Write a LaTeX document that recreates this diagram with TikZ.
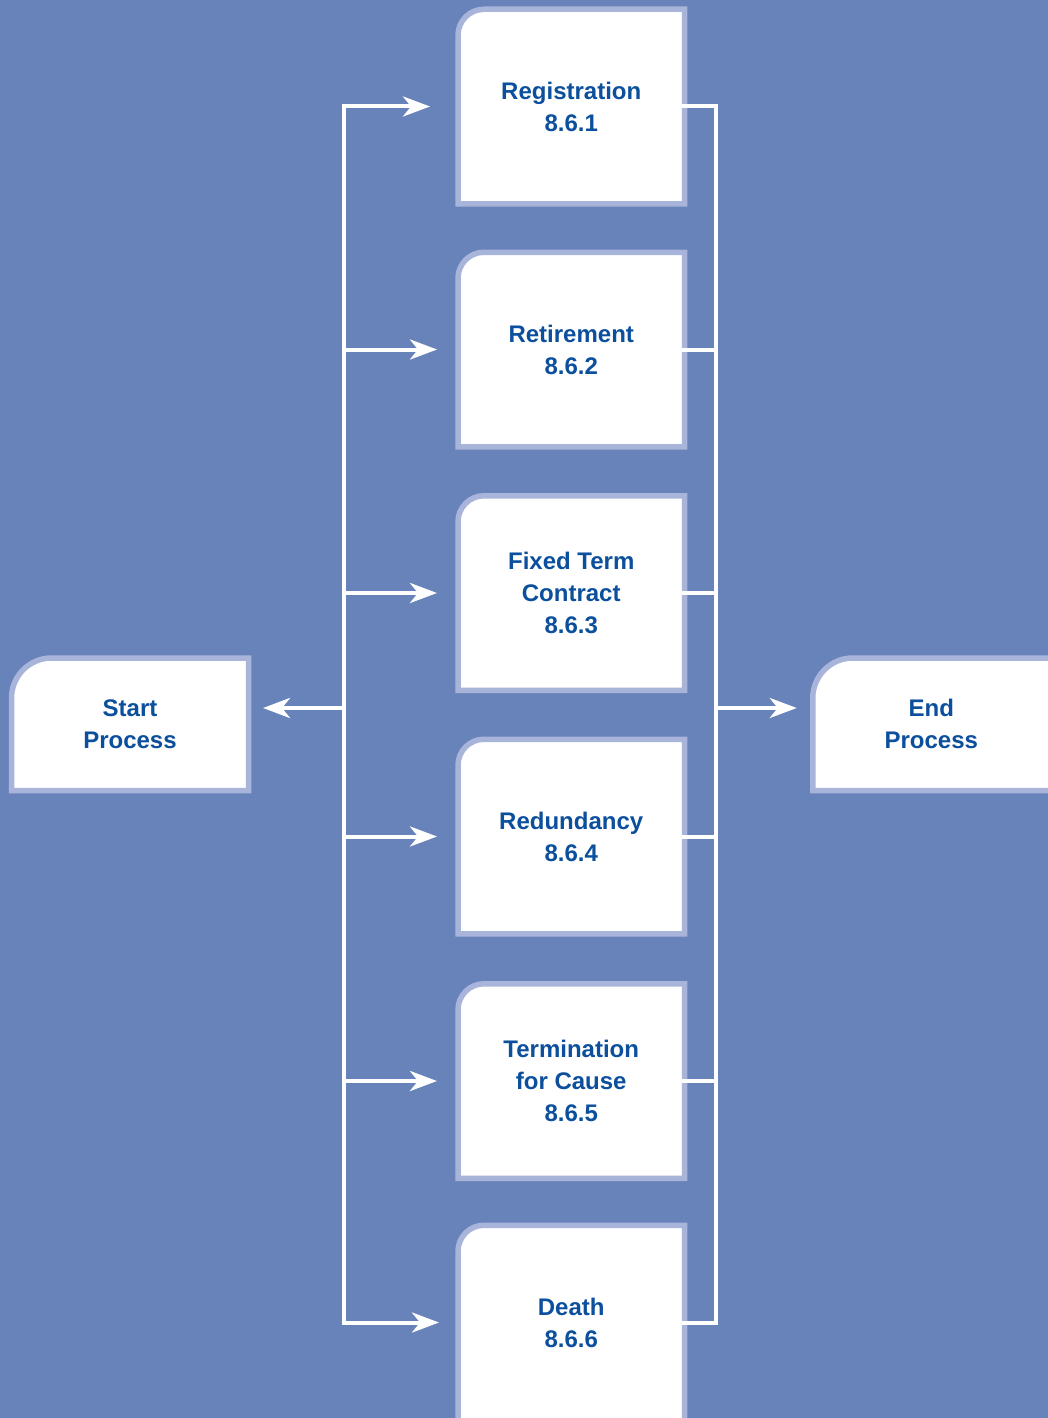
\documentclass[tikz,border=0pt]{standalone}
\usepackage{fontspec}
\setmainfont{Liberation Sans}
\usetikzlibrary{arrows.meta,backgrounds}
\definecolor{bg}{HTML}{6882BA}
\definecolor{rimc}{HTML}{A8B4DA}
\definecolor{ink}{HTML}{0B4F9D}
\tikzset{
  proc/.style={rectangle, minimum width=226.5pt, minimum height=194.5pt, inner sep=0pt, outer sep=0pt, align=center, text=ink, font=\fontsize{24}{32}\selectfont\bfseries},
  term/.style={proc, minimum width=237pt, minimum height=132.5pt},
  conn/.style={white, line width=4pt, line join=miter},
  arr/.style={conn, -{Stealth[length=27pt,width=20pt,inset=8pt]}},
  rim/.style={draw=rimc, fill=white, line width=5.5pt},
}
\newcommand\boxrim[2]{\draw[rim] (#1.south west) -- (#1.west) [rounded corners=#2] -- (#1.north west) -- (#1.north) [sharp corners] -- (#1.north east) -- (#1.south east) -- cycle;}
\begin{document}
\begin{tikzpicture}[x=1pt,y=-1pt]
\useasboundingbox (0,0) rectangle (1048,1418);
% nodes
\node[proc] (b1) at (571.25,106.5) {Registration\\8.6.1};
\node[proc] (b2) at (571.25,349.5) {Retirement\\8.6.2};
\node[proc] (b3) at (571.25,593) {Fixed Term\\Contract\\8.6.3};
\node[proc] (b4) at (571.25,836.5) {Redundancy\\8.6.4};
\node[proc] (b5) at (571.25,1081) {Termination\\for Cause\\8.6.5};
\node[proc] (b6) at (571.25,1322.5) {Death\\8.6.6};
\node[term] (start) at (130,724.25) {Start\\Process};
\node[term] (end) at (931.25,724.25) {End\\Process};
\begin{scope}[on background layer]
  \fill[bg] (0,0) rectangle (1048,1418);
  \boxrim{b1}{26pt}
  \boxrim{b2}{26pt}
  \boxrim{b3}{26pt}
  \boxrim{b4}{26pt}
  \boxrim{b5}{26pt}
  \boxrim{start}{40pt}
  \draw[rim] ([yshift=-20pt]b6.south west) -- (b6.west) [rounded corners=26pt] -- (b6.north west) -- (b6.north) [sharp corners] -- (b6.north east) -- ([yshift=-20pt]b6.south east) -- cycle;
  \draw[rim] (end.south west) -- (end.west) [rounded corners=40pt] -- (end.north west) -- (end.north) [sharp corners] -- ([xshift=20pt]end.north east) -- ([xshift=20pt]end.south east) -- cycle;
\end{scope}
% bus coordinates
\coordinate (lt) at (344,106.5);
\coordinate (lb) at (344,1322.5);
\coordinate (lm) at (344,708);
\coordinate (rt) at (716,106.5);
\coordinate (rb) at (716,1322.5);
\coordinate (rm) at (716,708);
% left bus and arrows
\draw[arr, shorten >=28pt] (lb) -- (lt) -- (b1.west);
\draw[arr, shorten >=19pt] (lt) -- (lb) -- (b6.west);
\draw[arr, shorten >=21pt] (b2.west -| lt) -- (b2.west);
\draw[arr, shorten >=21pt] (b3.west -| lt) -- (b3.west);
\draw[arr, shorten >=21pt] (b4.west -| lt) -- (b4.west);
\draw[arr, shorten >=21pt] (b5.west -| lt) -- (b5.west);
\draw[arr, shorten >=14.5pt] (lm) -- (lm -| start.east);
% right bus
\draw[conn] ([xshift=-2.5pt]b1.east) -- (rt) -- (rb) -- ([xshift=-2.5pt]b6.east);
\draw[conn] ([xshift=-2.5pt]b2.east) -- (b2.east -| rt);
\draw[conn] ([xshift=-2.5pt]b3.east) -- (b3.east -| rt);
\draw[conn] ([xshift=-2.5pt]b4.east) -- (b4.east -| rt);
\draw[conn] ([xshift=-2.5pt]b5.east) -- (b5.east -| rt);
\draw[arr, shorten >=16pt] (rm) -- (rm -| end.west);
\end{tikzpicture}
\end{document}
